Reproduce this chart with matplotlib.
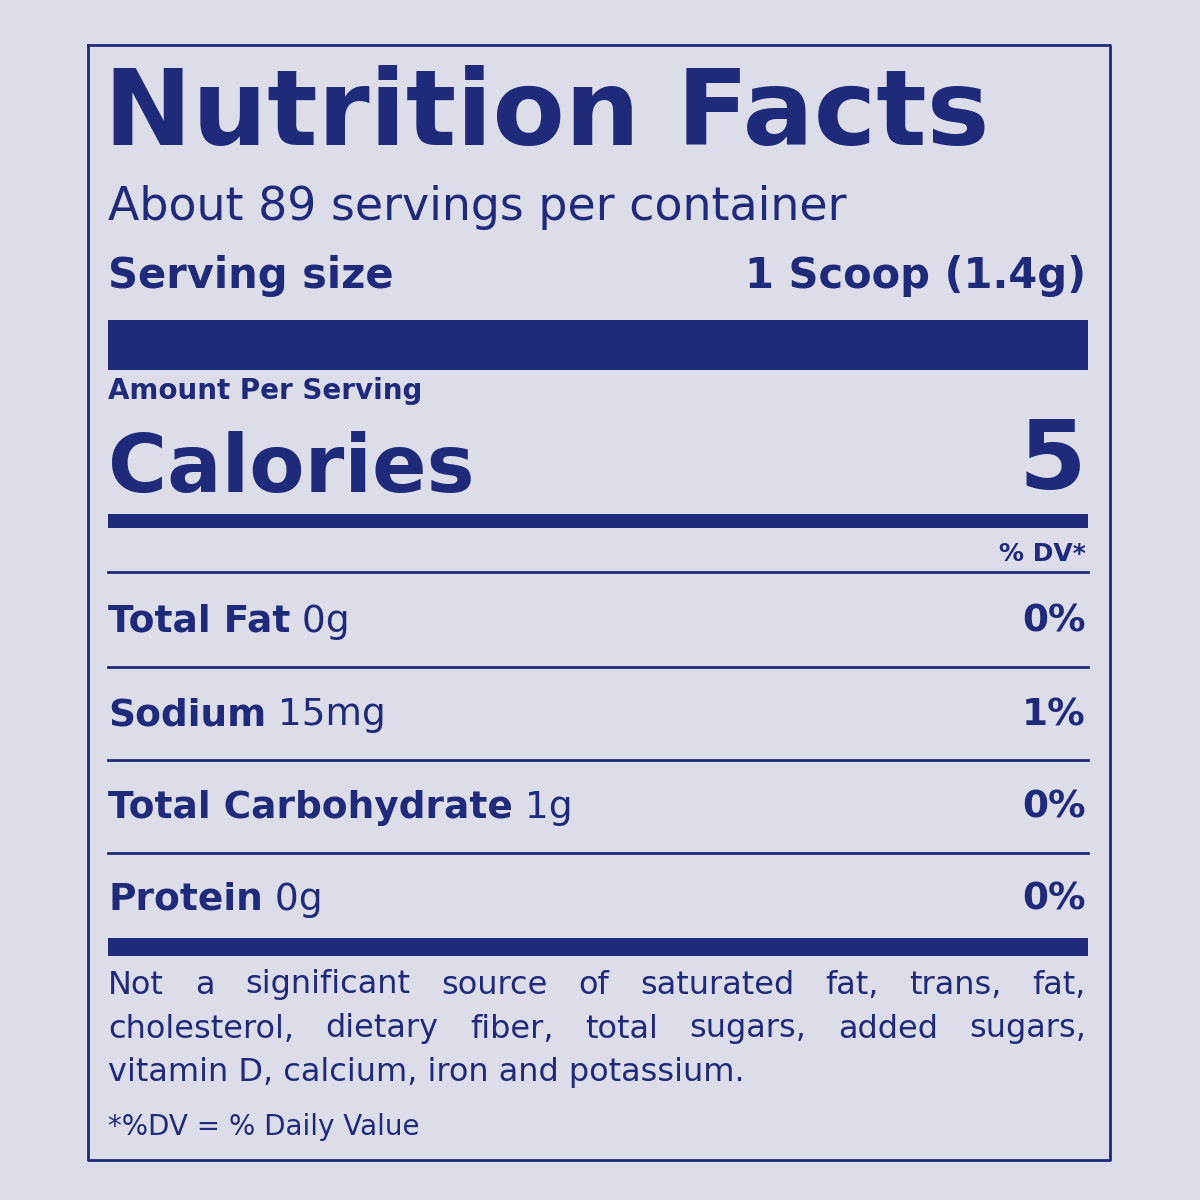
import matplotlib
matplotlib.use("Agg")
from matplotlib import pyplot as plt

NAVY = '#1f2a7a'
BG = '#dcdde9'

title = 'Nutrition Facts'
servings = 'About 89 servings per container'
serving_size = '1 Scoop (1.4g)'
calories = '5'
nutrients = ['Total Fat', 'Sodium', 'Total Carbohydrate', 'Protein']
amounts = ['0g', '15mg', '1g', '0g']
daily_values = ['0%', '1%', '0%', '0%']
footnote = ['Not a significant source of saturated fat, trans, fat,',
            'cholesterol, dietary fiber, total sugars, added sugars,',
            'vitamin D, calcium, iron and potassium.']
dv_note = '*%DV = % Daily Value'

plt.rcParams['font.family'] = ['DejaVu Sans']

fig = plt.figure(figsize=(12, 12), dpi=100)
fig.patch.set_facecolor(BG)
ax = fig.add_axes([0, 0, 1, 1])
ax.set_xlim(0, 1200)
ax.set_ylim(1200, 0)
ax.axis('off')

L, R = 108, 1086

# frame
ax.plot([88, 1110, 1110, 88, 88], [45, 45, 1160, 1160, 45], color=NAVY, lw=2)

ax.text(L - 4, 116, title, fontsize=76, fontweight='bold', color=NAVY, va='center', ha='left')
ax.text(L, 208, servings, fontsize=33, color=NAVY, va='center', ha='left')
ax.text(L, 276, 'Serving size', fontsize=30, fontweight='bold', color=NAVY, va='center', ha='left')
ax.text(R, 276, serving_size, fontsize=30, fontweight='bold', color=NAVY, va='center', ha='right')

ax.fill_between([L, R + 2], 320, 370, color=NAVY, lw=0)
ax.text(L, 391, 'Amount Per Serving', fontsize=20, fontweight='bold', color=NAVY, va='center', ha='left')
ax.text(L, 470, 'Calories', fontsize=58, fontweight='bold', color=NAVY, va='center', ha='left')
ax.text(R, 462, calories, fontsize=70, fontweight='bold', color=NAVY, va='center', ha='right')
ax.fill_between([L, R + 2], 514, 528, color=NAVY, lw=0)
ax.text(R, 554, '% DV*', fontsize=18, fontweight='bold', color=NAVY, va='center', ha='right')
ax.plot([L, R + 2], [572, 572], color=NAVY, lw=2)

row_y = [622, 715, 808, 900]
for i, (name, amt, dv) in enumerate(zip(nutrients, amounts, daily_values)):
    y = row_y[i]
    t = ax.text(L, y, name, fontsize=27, fontweight='bold', color=NAVY, va='center', ha='left')
    ax.annotate(' ' + amt, xy=(1, 0.5), xycoords=t, fontsize=27, color=NAVY, va='center', ha='left')
    ax.text(R, y, dv, fontsize=27, fontweight='bold', color=NAVY, va='center', ha='right')
    if i < len(nutrients) - 1:
        ax.plot([L, R + 2], [y + 45, y + 45], color=NAVY, lw=2)

ax.fill_between([L, R + 2], 938, 956, color=NAVY, lw=0)

# justified footnote: first two lines spread to full width
renderer = fig.canvas.get_renderer()
for j, line in enumerate(footnote):
    y = 985 + j * 44
    if j == len(footnote) - 1:
        ax.text(L, y, line, fontsize=23, color=NAVY, va='center', ha='left')
        continue
    words = line.split()
    arts = [ax.text(0, y, w, fontsize=23, color=NAVY, va='center', ha='left') for w in words]
    widths = [a.get_window_extent(renderer).width for a in arts]
    gap = (R - L - sum(widths)) / (len(words) - 1)
    x = L
    for a, w in zip(arts, widths):
        a.set_x(x)
        x += w + gap
ax.text(L, 1127, dv_note, fontsize=20, color=NAVY, va='center', ha='left')

fig.savefig('out.png', dpi=100, facecolor=BG)
